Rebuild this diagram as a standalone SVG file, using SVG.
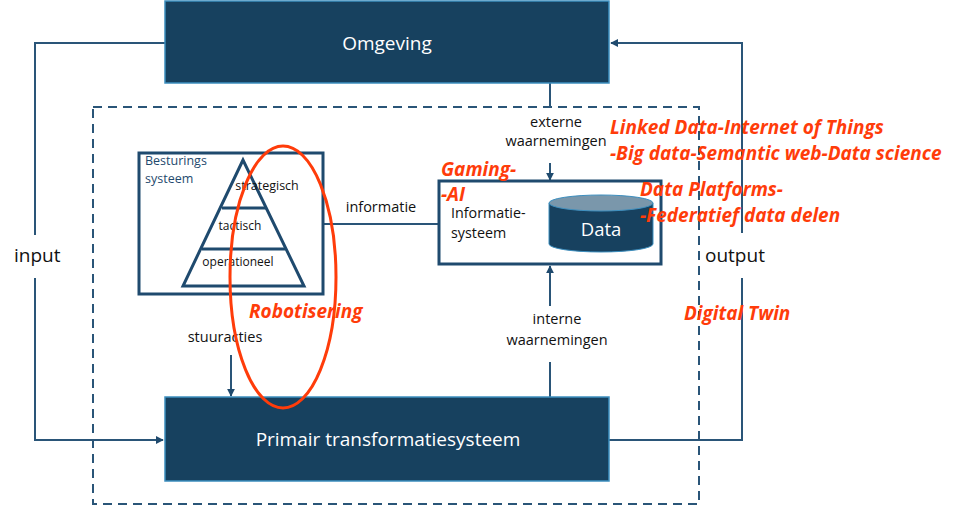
<svg xmlns="http://www.w3.org/2000/svg" width="962" height="506" viewBox="0 0 962 506">
<defs>
<marker id="ah" viewBox="0 0 10 10" refX="9" refY="5" markerWidth="4" markerHeight="4" orient="auto-start-reverse" markerUnits="strokeWidth">
<path d="M0,0 L10,5 L0,10 z" fill="#1f4a6e"/>
</marker>
<style>
.big{fill:#17415f;stroke:#3d8fbf;stroke-width:1.5}
.frame{fill:#fff;stroke:#1f4a6e;stroke-width:3}
.ln{fill:none;stroke:#2a5578;stroke-width:2}
.dash{fill:none;stroke:#2a5578;stroke-width:2;stroke-dasharray:9,6}
.wt{font-family:"Open Sans","Liberation Sans",sans-serif;fill:#fff}
.bt{font-family:"Open Sans","Liberation Sans",sans-serif;fill:#111}
.rt{font-family:"Open Sans","Liberation Sans",sans-serif;fill:#ff3c0a;font-weight:bold;font-style:italic}
</style>
</defs>
<rect width="962" height="506" fill="#fff"/>

<g id="boundary">
<rect class="dash" x="93" y="107" width="606" height="397"/>
</g>

<g id="connectors">
<polyline class="ln" points="165,43 35,43 35,235"/>
<polyline class="ln" points="35,278 35,440 163,440" marker-end="url(#ah)"/>
<polyline class="ln" points="609,440 742,440 742,278"/>
<polyline class="ln" points="742,233 742,43 611,43" marker-end="url(#ah)"/>
<line class="ln" x1="550" y1="83" x2="550" y2="107"/>
<line class="ln" x1="550" y1="163" x2="550" y2="180" marker-end="url(#ah)"/>
<line class="ln" x1="550" y1="397" x2="550" y2="362"/>
<line class="ln" x1="550" y1="306" x2="550" y2="266" marker-end="url(#ah)"/>
<line class="ln" x1="323" y1="224" x2="439" y2="224"/>
<line class="ln" x1="231" y1="355" x2="231" y2="396" marker-end="url(#ah)"/>
</g>

<g id="omgeving">
<rect class="big" x="165" y="1" width="444" height="82"/>
<text class="wt" x="387" y="50" font-size="19" text-anchor="middle">Omgeving</text>
</g>

<g id="primair">
<rect class="big" x="165" y="397" width="444" height="84"/>
<text class="wt" x="388" y="446" font-size="19" text-anchor="middle">Primair transformatiesysteem</text>
</g>

<g id="besturingssysteem">
<rect class="frame" x="139" y="153" width="184" height="141"/>
<text x="145" y="165" font-size="12.5" font-family="Open Sans,Liberation Sans,sans-serif" fill="#1f4a6e">Besturings</text>
<text x="145" y="183" font-size="12.5" font-family="Open Sans,Liberation Sans,sans-serif" fill="#1f4a6e">systeem</text>
<polygon points="243,160 183,286 304,286" fill="none" stroke="#1f4a6e" stroke-width="3" stroke-linejoin="miter"/>
<line x1="222" y1="208" x2="266" y2="208" stroke="#1f4a6e" stroke-width="3"/>
<line x1="202" y1="249" x2="285" y2="249" stroke="#1f4a6e" stroke-width="3"/>
<text class="bt" x="267" y="190" font-size="12.5" text-anchor="middle">strategisch</text>
<text class="bt" x="240" y="230" font-size="12" text-anchor="middle">tactisch</text>
<text class="bt" x="238" y="266" font-size="12" text-anchor="middle">operationeel</text>
</g>

<g id="informatiesysteem">
<rect class="frame" x="439" y="181" width="222" height="83"/>
<text class="bt" x="451" y="218" font-size="14.3">Informatie-</text>
<text class="bt" x="451" y="238" font-size="14.3">systeem</text>
<g id="data">
<path d="M549,203 L549,244 A52,8 0 0 0 653,244 L653,203 Z" fill="#17415f" stroke="#3d8fbf" stroke-width="1"/>
<ellipse cx="601" cy="203" rx="52" ry="8" fill="#7a97ab" stroke="#3d8fbf" stroke-width="1"/>
<text class="wt" x="601" y="236" font-size="18.5" text-anchor="middle">Data</text>
</g>
</g>

<g id="labels">
<text class="bt" x="556" y="127" font-size="14.5" text-anchor="middle">externe</text>
<text class="bt" x="556" y="146" font-size="14.5" text-anchor="middle">waarnemingen</text>
<text class="bt" x="557" y="324" font-size="14.5" text-anchor="middle">interne</text>
<text class="bt" x="557" y="345" font-size="14.5" text-anchor="middle">waarnemingen</text>
<text class="bt" x="381" y="212" font-size="14.5" text-anchor="middle">informatie</text>
<text class="bt" x="225" y="342" font-size="14.5" text-anchor="middle">stuuracties</text>
<text class="bt" x="14" y="262" font-size="19">input</text>
<text class="bt" x="705" y="262" font-size="19">output</text>
</g>

<g id="annotations">
<ellipse cx="283" cy="277" rx="53" ry="131" fill="none" stroke="#ff3c0a" stroke-width="3"/>
<text class="rt" x="610" y="134" font-size="19">Linked Data-Internet of Things</text>
<text class="rt" x="610" y="160" font-size="19">-Big data-Semantic web-Data science</text>
<text class="rt" x="640" y="196" font-size="19">Data Platforms-</text>
<text class="rt" x="640" y="222" font-size="19">-Federatief data delen</text>
<text class="rt" x="441" y="176" font-size="19">Gaming-</text>
<text class="rt" x="441" y="201" font-size="19">-AI</text>
<text class="rt" x="249" y="318" font-size="19">Robotisering</text>
<text class="rt" x="684" y="320" font-size="19">Digital Twin</text>
</g>
</svg>
